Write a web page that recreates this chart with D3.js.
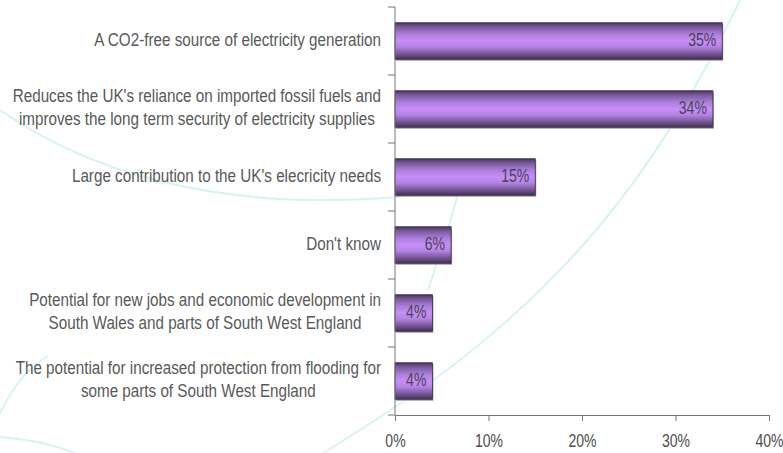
<!DOCTYPE html>
<html>
<head>
<meta charset="utf-8">
<script src="https://cdn.jsdelivr.net/npm/d3@7"></script>
<style>
html,body{margin:0;padding:0;background:#fff;}
svg{display:block;}
</style>
</head>
<body>
<svg id="chart" width="783" height="453"></svg>
<script>
// ---- data ----
const categories = [
  ["A CO2-free source of electricity generation"],
  ["Reduces the UK's reliance on imported fossil fuels and", "improves the long term security of electricity supplies"],
  ["Large contribution to the UK's elecricity needs"],
  ["Don't know"],
  ["Potential for new jobs and economic development in", "South Wales and parts of South West England"],
  ["The potential for increased protection from flooding for", "some parts of South West England"]
];
const values = [0.35, 0.34, 0.15, 0.06, 0.04, 0.04];
const xTicks = [0, 0.1, 0.2, 0.3, 0.4];

const FONT = "'Liberation Sans',Arial,sans-serif";
const svg = d3.select("#chart");

// decorative background curves
const deco = svg.append("g").attr("fill","none").attr("stroke","#d6f3f3").attr("stroke-width",2);
["M740,0 C660,170 560,300 380,417 S300,450 280,460",
 "M0,110 C100,180 250,220 460,190",
 "M458,193 C450,225 440,255 428,290",
 "M0,413 Q20,372 48,356",
 "M0,437 Q45,440 82,456"].forEach(d => deco.append("path").attr("d", d));

const keys = categories.map((c,i)=>i);
const x = d3.scaleLinear().domain([0, 0.4]).range([395, 769]);
const y = d3.scaleBand().domain(keys).range([7, 415]).paddingInner(0.463).paddingOuter(0.2315);

// gradient
const defs = svg.append("defs");
const grad = defs.append("linearGradient").attr("id","barGrad").attr("x1",0).attr("y1",0).attr("x2",0).attr("y2",1);
[[0,"#4a3560"],[0.12,"#7a5a9c"],[0.32,"#ad7fdc"],[0.5,"#c88ef8"],[0.66,"#b383e4"],[0.86,"#735392"],[1,"#433052"]]
  .forEach(([o,c]) => grad.append("stop").attr("offset",o).attr("stop-color",c));

// bars
const bars = svg.append("g");
bars.selectAll("rect.shadow").data(values).join("rect")
  .attr("class","shadow")
  .attr("x", x(0)+1).attr("y", (d,i)=>y(i)+1.5)
  .attr("width", d=>x(d)-x(0)).attr("height", y.bandwidth())
  .attr("fill","#a0a0a0");
bars.selectAll("rect.bar").data(values).join("rect")
  .attr("class","bar")
  .attr("x", x(0)).attr("y", (d,i)=>y(i))
  .attr("width", d=>x(d)-x(0)).attr("height", y.bandwidth())
  .attr("fill","url(#barGrad)").attr("stroke","#3a3040").attr("stroke-width",0.8);

// value labels (condensed)
svg.append("g").selectAll("text").data(values).join("text")
  .attr("transform", (d,i)=>`translate(${x(d)-6},${y(i)+y.bandwidth()/2}) scale(0.78,1)`)
  .attr("dy","0.26em").attr("text-anchor","end")
  .attr("font-family",FONT).attr("font-size",18).attr("fill","#4a4452")
  .text(d=>d3.format(".0%")(d));

// y axis line and ticks at band boundaries
const axisCol = "#777";
const yAxis = svg.append("g").attr("stroke",axisCol).attr("stroke-width",1);
const r = y.range();
yAxis.append("line").attr("x1",x(0)).attr("x2",x(0)).attr("y1",r[0]).attr("y2",r[1]);
const boundaries = keys.map(k=>y(k) - y.step()*y.paddingInner()/2).concat([r[1]]);
yAxis.selectAll("line.t").data(boundaries).join("line").attr("class","t")
  .attr("x1",x(0)-7).attr("x2",x(0)).attr("y1",d=>d).attr("y2",d=>d);

// x axis
const xa = svg.append("g").attr("transform",`translate(0,${r[1]})`)
  .call(d3.axisBottom(x).tickValues(xTicks).tickFormat(d3.format(".0%")).tickSize(6).tickSizeOuter(0));
xa.select(".domain").attr("stroke",axisCol);
xa.selectAll(".tick line").attr("stroke",axisCol);
xa.selectAll(".tick text").attr("y",32).attr("dy",0).attr("transform","scale(0.78,1)")
  .attr("font-family",FONT).attr("font-size",18).attr("fill","#4d4d4d");

// category labels (centered multi-line blocks, right-aligned to axis, condensed)
const labG = svg.append("g").attr("font-family",FONT).attr("font-size",17.5).attr("fill","#595959");
const rightEdge = 381, lineH = 23, sx = 0.87;
categories.forEach((lines,i)=>{
  const cy = y(i)+y.bandwidth()/2;
  const g = labG.append("g").attr("transform",`translate(${rightEdge},0) scale(${sx},1)`);
  const ts = lines.map((ln,j)=> g.append("text")
    .attr("y", cy + (j-(lines.length-1)/2)*lineH).attr("dy","0.26em")
    .attr("text-anchor","middle").text(ln));
  const maxW = d3.max(ts, t=>t.node().getComputedTextLength());
  ts.forEach(t=>t.attr("x", -maxW/2));
});
</script>
</body>
</html>
